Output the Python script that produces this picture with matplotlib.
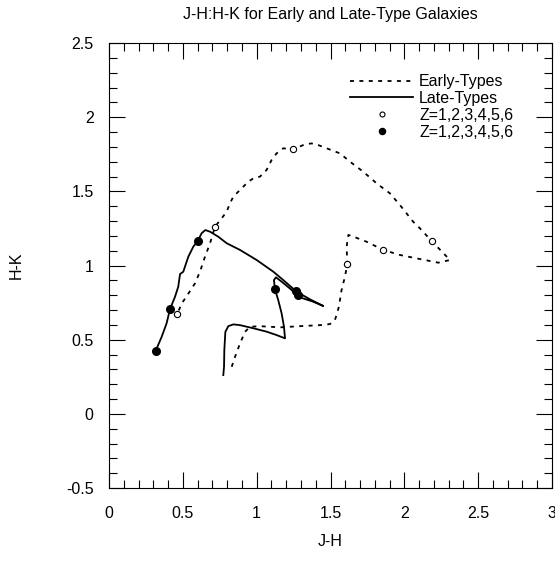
import matplotlib
matplotlib.use("Agg")
import matplotlib.pyplot as plt
from matplotlib.ticker import MultipleLocator

plt.rcParams['font.family'] = ['Liberation Sans', 'DejaVu Sans']

# early-type track (J-H, H-K)
early_jh = [0.831, 0.853, 0.887, 0.921, 0.955, 1.022, 1.158, 1.293, 1.429, 1.496,
            1.530, 1.557, 1.575, 1.598, 1.614, 1.609, 1.621, 1.654, 1.745, 1.857,
            1.970, 2.083, 2.230, 2.309, 2.185, 2.106, 2.060, 1.970, 1.903, 1.812,
            1.722, 1.632, 1.564, 1.474, 1.417, 1.372, 1.327, 1.248, 1.180, 1.135,
            1.101, 1.067, 1.022, 0.977, 0.943, 0.909, 0.876, 0.842, 0.819, 0.797,
            0.763, 0.718, 0.684, 0.650, 0.616, 0.582, 0.537, 0.492, 0.463]
early_hk = [0.317, 0.383, 0.474, 0.553, 0.587, 0.591, 0.583, 0.591, 0.598, 0.605,
            0.632, 0.722, 0.835, 0.925, 1.010, 1.127, 1.206, 1.195, 1.160, 1.105,
            1.071, 1.048, 1.019, 1.037, 1.165, 1.250, 1.295, 1.408, 1.486, 1.554,
            1.632, 1.700, 1.756, 1.790, 1.812, 1.823, 1.817, 1.783, 1.790, 1.756,
            1.711, 1.644, 1.599, 1.587, 1.565, 1.531, 1.498, 1.464, 1.419, 1.363,
            1.318, 1.262, 1.149, 1.059, 0.958, 0.879, 0.810, 0.743, 0.675]

# late-type track
late_jh = [0.316, 0.357, 0.390, 0.413, 0.447, 0.469, 0.481, 0.503, 0.537, 0.571,
           0.600, 0.627, 0.652, 0.684, 0.740, 0.797, 0.887, 1.000, 1.113, 1.180,
           1.271, 1.361, 1.451, 1.383, 1.293, 1.225, 1.169, 1.131, 1.117, 1.124,
           1.146, 1.169, 1.185, 1.192, 1.135, 1.067, 0.977, 0.887, 0.842, 0.808,
           0.788, 0.781, 0.779, 0.774]
late_hk = [0.425, 0.520, 0.610, 0.706, 0.789, 0.857, 0.942, 0.958, 1.059, 1.127,
           1.163, 1.217, 1.239, 1.228, 1.194, 1.150, 1.105, 1.037, 0.958, 0.902,
           0.823, 0.772, 0.727, 0.756, 0.785, 0.845, 0.891, 0.920, 0.902, 0.839,
           0.767, 0.677, 0.587, 0.509, 0.531, 0.554, 0.577, 0.598, 0.603, 0.591,
           0.553, 0.430, 0.317, 0.261]

# points at Z=1..6
early_z_jh = [0.463, 0.718, 1.248, 1.614, 1.857, 2.185]
early_z_hk = [0.673, 1.262, 1.783, 1.010, 1.105, 1.165]
late_z_jh = [0.316, 0.413, 0.600, 1.124, 1.266, 1.282]
late_z_hk = [0.425, 0.706, 1.163, 0.839, 0.830, 0.801]

fs = 11.5

fig = plt.figure(figsize=(5.55, 5.63), dpi=100)
ax = fig.add_axes([109 / 555, 1 - 488 / 563, 443 / 555, 445 / 563])

ax.plot(early_jh, early_hk, color='black', lw=1.3, ls=(0, (2.2, 3.0)), label='Early-Types')
ax.plot(late_jh, late_hk, color='black', lw=1.3, label='Late-Types')
ax.plot(early_z_jh, early_z_hk, 'o', ms=4.5, mfc='white', mec='black', mew=0.8,
        label='Z=1,2,3,4,5,6')
ax.plot(late_z_jh, late_z_hk, 'o', ms=5.5, color='black', label='Z=1,2,3,4,5,6')

ax.set_xlim(0, 3)
ax.set_ylim(-0.5, 2.5)
ax.xaxis.set_major_locator(MultipleLocator(0.5))
ax.xaxis.set_minor_locator(MultipleLocator(0.1))
ax.yaxis.set_major_locator(MultipleLocator(0.5))
ax.yaxis.set_minor_locator(MultipleLocator(0.1))
ax.xaxis.set_major_formatter(plt.FuncFormatter(lambda v, p: f"{v:g}"))
ax.yaxis.set_major_formatter(plt.FuncFormatter(lambda v, p: f"{v:g}"))
ax.tick_params(which='both', direction='in', top=True, right=True, width=0.8, labelsize=fs)
ax.tick_params(which='major', length=11.5)
ax.tick_params(which='minor', length=5.8)
ax.tick_params(axis='x', which='major', pad=13)
ax.tick_params(axis='y', which='major', pad=11)
for s in ax.spines.values():
    s.set_linewidth(0.8)

ax.set_title("J-H:H-K for Early and Late-Type Galaxies", fontsize=fs, pad=17)
ax.set_xlabel("J-H", fontsize=fs)
ax.set_ylabel("H-K", fontsize=fs)
ax.xaxis.set_label_coords(0.5, -0.104)
ax.yaxis.set_label_coords(-0.192, 0.5)

ax.legend(loc='upper left', bbox_to_anchor=(0.545, 0.93), frameon=False, fontsize=fs,
          handlelength=3.9, handletextpad=0.4, labelspacing=0.12, borderpad=0,
          borderaxespad=0, markerscale=0.8)

fig.savefig("out.png", dpi=100)
